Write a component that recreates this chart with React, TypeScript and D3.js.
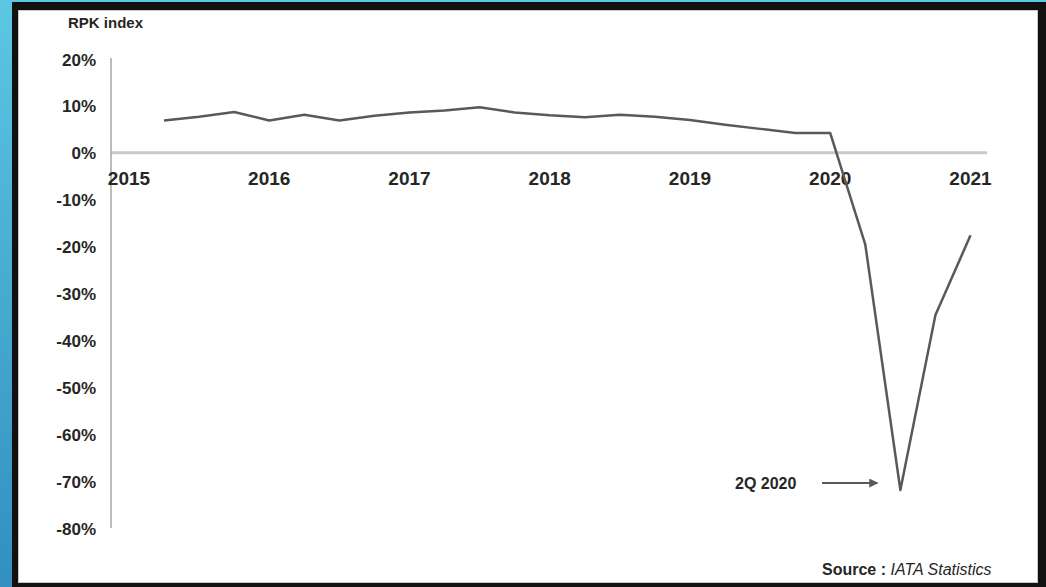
import React from "react";
import * as d3 from "d3";

const W = 1046;
const H = 587;

// Quarterly RPK growth (%), quarter index 1..24 (index 0 = "2015" label position)
const quarterIndex = [1, 2, 3, 4, 5, 6, 7, 8, 9, 10, 11, 12, 13, 14, 15, 16, 17, 18, 19, 20, 21, 22, 23, 24];
const rpkValues = [6.9, 7.7, 8.7, 6.9, 8.1, 6.9, 7.9, 8.6, 9.0, 9.7, 8.6, 8.0, 7.6, 8.1, 7.7, 7.0, 6.0, 5.1, 4.2, 4.2, -19.6, -71.9, -34.6, -17.6];
const yearLabels = ["2015", "2016", "2017", "2018", "2019", "2020", "2021"];
const yearIndex = [0, 4, 8, 12, 16, 20, 24];
const yTicks = [20, 10, 0, -10, -20, -30, -40, -50, -60, -70, -80];
const annotationIndex = 22;
const annotationLabel = "2Q 2020";

export default function App() {
  const x = d3.scaleLinear().domain([0, 24]).range([129, 970.5]);
  const y = d3.scaleLinear().domain([-80, 20]).range([528, 59]);
  const line = d3
    .line<number>()
    .x((_, i) => x(quarterIndex[i]))
    .y((d) => y(d));
  const axisX = 111;
  const font = "'Liberation Sans', Arial, sans-serif";
  const textColor = "#262626";
  const ay = y(rpkValues[annotationIndex - 1]) - 7;

  return (
    <svg width={W} height={H} style={{ position: "absolute", left: 0, top: 0 }}>
      <defs>
        <linearGradient id="bg" x1="0" y1="0" x2="0" y2="1">
          <stop offset="0%" stopColor="#5cc7e3" />
          <stop offset="100%" stopColor="#328fbf" />
        </linearGradient>
        <marker id="arrow" viewBox="0 0 10 10" refX="9" refY="5" markerWidth="4.5" markerHeight="4.5" orient="auto">
          <path d="M0,0 L10,5 L0,10 z" fill="#595959" />
        </marker>
      </defs>
      <rect x={0} y={0} width={W} height={H} fill="url(#bg)" />
      <rect x={12} y={2} width={W - 12} height={H - 2} fill="#111" />
      <rect x={18.5} y={10.5} width={1019} height={572} fill="#fff" stroke="#c8c8c8" strokeWidth={1} />

      <text x={68} y={22} fontFamily={font} fontWeight="bold" fontSize={15} fill={textColor} dominantBaseline="central">
        RPK index
      </text>

      {/* zero line */}
      <line x1={axisX} x2={987} y1={y(0)} y2={y(0)} stroke="#c9c9c9" strokeWidth={3} />
      {/* y axis */}
      <line x1={axisX} x2={axisX} y1={y(20) - 1} y2={y(-80)} stroke="#a6a6a6" strokeWidth={1.5} />

      {yTicks.map((t) => (
        <text
          key={t}
          x={96}
          y={y(t) + 1}
          textAnchor="end"
          dominantBaseline="central"
          fontFamily={font}
          fontWeight="bold"
          fontSize={17}
          fill={textColor}
        >
          {`${t}%`}
        </text>
      ))}

      {yearLabels.map((lab, i) => (
        <text
          key={lab}
          x={x(yearIndex[i])}
          y={178}
          textAnchor="middle"
          dominantBaseline="central"
          fontFamily={font}
          fontWeight="bold"
          fontSize={19}
          fill={textColor}
        >
          {lab}
        </text>
      ))}

      <path d={line(rpkValues) || ""} fill="none" stroke="#595959" strokeWidth={2.5} strokeLinejoin="round" />

      <text x={735} y={ay} dominantBaseline="central" fontFamily={font} fontWeight="bold" fontSize={16} fill={textColor}>
        {annotationLabel}
      </text>
      <line
        x1={822}
        x2={x(annotationIndex) - 23}
        y1={ay}
        y2={ay}
        stroke="#595959"
        strokeWidth={2}
        markerEnd="url(#arrow)"
      />

      <text x={822} y={569} dominantBaseline="central" fontFamily={font} fontSize={16} fill={textColor}>
        <tspan fontWeight="bold">Source : </tspan>
        <tspan fontStyle="italic">IATA Statistics</tspan>
      </text>
    </svg>
  );
}
